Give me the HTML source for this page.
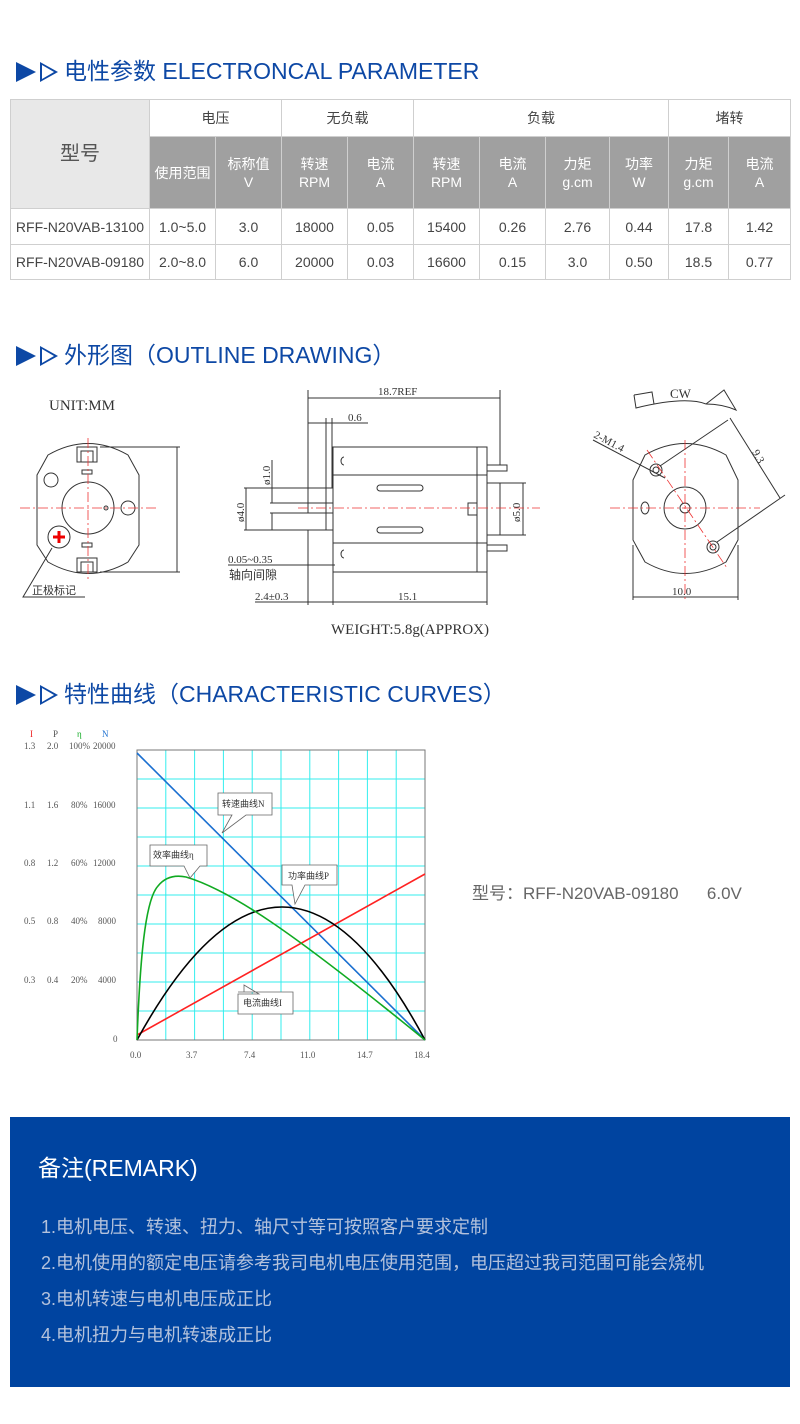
<!DOCTYPE html>
<html><head><meta charset="utf-8"><style>
body{margin:0;background:#fff;width:800px;height:1424px;position:relative;overflow:hidden;font-family:"Liberation Sans","Noto Sans CJK SC",sans-serif;}
.h{position:absolute;left:16px;color:#0d48a5;font-size:23px;line-height:30px;white-space:nowrap;}
.h .t1{display:inline-block;width:0;height:0;border-top:10px solid transparent;border-bottom:10px solid transparent;border-left:20px solid #0d48a5;vertical-align:-3px;margin-right:4px}
.h .t2{display:inline-block;width:0;height:0;border-top:10px solid transparent;border-bottom:10px solid transparent;border-left:18px solid #0d48a5;position:relative;vertical-align:-3px;margin-right:6px}
.h .t2:after{content:"";position:absolute;left:-16px;top:-7px;border-top:7px solid transparent;border-bottom:7px solid transparent;border-left:12px solid #fff}
table{position:absolute;left:10px;top:99px;border-collapse:collapse;font-size:14px;color:#444;table-layout:fixed}
td{border:1px solid #cfcfcf;text-align:center;padding:0;line-height:18px}
.g{background:#a0a0a0;color:#fff}
.svgt{font-family:"Liberation Serif","Noto Serif CJK SC",serif}
</style></head><body>
<div class="h" style="top:56px"><span class="t1"></span><span class="t2"></span>电性参数 ELECTRONCAL PARAMETER</div>
<table>
<colgroup><col style="width:139px"><col style="width:66px"><col style="width:66px"><col style="width:66px"><col style="width:66px"><col style="width:66px"><col style="width:66px"><col style="width:64px"><col style="width:59px"><col style="width:60px"><col style="width:62px"></colgroup>
<tr style="height:37px"><td rowspan="2" style="background:#e8e8e8;font-size:20px;color:#555">型号</td><td colspan="2">电压</td><td colspan="2">无负载</td><td colspan="4">负载</td><td colspan="2">堵转</td></tr>
<tr style="height:72px" class="g"><td class="g">使用范围</td><td class="g">标称值<br>V</td><td class="g">转速<br>RPM</td><td class="g">电流<br>A</td><td class="g">转速<br>RPM</td><td class="g">电流<br>A</td><td class="g">力矩<br>g.cm</td><td class="g">功率<br>W</td><td class="g">力矩<br>g.cm</td><td class="g">电流<br>A</td></tr>
<tr style="height:36px"><td>RFF-N20VAB-13100</td><td>1.0~5.0</td><td>3.0</td><td>18000</td><td>0.05</td><td>15400</td><td>0.26</td><td>2.76</td><td>0.44</td><td>17.8</td><td>1.42</td></tr>
<tr style="height:35px"><td>RFF-N20VAB-09180</td><td>2.0~8.0</td><td>6.0</td><td>20000</td><td>0.03</td><td>16600</td><td>0.15</td><td>3.0</td><td>0.50</td><td>18.5</td><td>0.77</td></tr>
</table>

<div class="h" style="top:340px"><span class="t1"></span><span class="t2"></span>外形图（OUTLINE DRAWING）</div>

<svg style="position:absolute;left:0;top:380px" width="800" height="270" viewBox="0 380 800 270" class="svgt">
<g fill="none" stroke="#333" stroke-width="1">
<path d="M48,455 Q88,432 128,455 L139,475 L139,545 L128,562 Q88,585 48,562 L37,545 L37,475 Z"/>
<rect x="77" y="447" width="20" height="15"/><rect x="81" y="451" width="12" height="11"/>
<rect x="77" y="558" width="20" height="14"/><rect x="81" y="562" width="12" height="10"/>
<rect x="82" y="470" width="10" height="4"/><rect x="82" y="543" width="10" height="4"/>
<circle cx="88" cy="508" r="26"/><circle cx="51" cy="480" r="7"/><circle cx="128" cy="508" r="7"/><circle cx="106" cy="508" r="2"/>
<circle cx="59" cy="537" r="11"/>
<path d="M100,447 H180 M100,572 H180 M177,447 V572"/>
<path d="M52,548 L23,597 H85"/>
<rect x="333" y="447" width="154" height="125"/>
<path d="M333,475 H487 M333,543 H487 M477,447 V572"/>
<rect x="487" y="483" width="13" height="52"/>
<rect x="487" y="465" width="20" height="6"/><rect x="487" y="545" width="20" height="6"/>
<rect x="308" y="503" width="25" height="10"/><rect x="326" y="488" width="7" height="42"/>
<rect x="377" y="485" width="46" height="6" rx="3"/><rect x="377" y="527" width="46" height="6" rx="3"/>
<path d="M468,503 H477 V515 H468 Z"/>
<path d="M344,457 a3,4 0 0 0 0,8 M344,550 a3,4 0 0 0 0,8"/>
<path d="M308,390 V503 M500,390 V465 M308,398 H500 M326,418 V488 M332,418 V488 M308,423 H368 M244,488 H326 M244,530 H326 M270,503 H308 M270,513 H308 M246,488 V530 M272,460 V503 M272,513 V530 M500,483 H526 M500,535 H526 M523,483 V535 M228,565 H335 M308,530 V605 M333,572 V605 M487,572 V605 M255,602 H487"/>
<path d="M645,455 Q685,432 726,455 L738,480 L738,540 L726,562 Q685,585 645,562 L633,540 L633,480 Z"/>
<circle cx="685" cy="508" r="21"/><circle cx="685" cy="508" r="5"/>
<ellipse cx="645" cy="508" rx="4" ry="6"/>
<circle cx="656" cy="470" r="6"/><circle cx="656" cy="470" r="3"/><circle cx="713" cy="547" r="6"/><circle cx="713" cy="547" r="3"/>
<path d="M660,466 L728,420 M717,542 L785,495 M730,418 L780,498 M593,440 L665,478 M633,545 V600 M738,545 V600 M633,597 H738"/>
<path d="M634,395 L636,408 Q685,396 706,404"/><path d="M634,395 L652,392 L654,404"/><path d="M706,404 L724,390 L736,410 Q722,404 706,404"/>
</g>
<g stroke="#e33" stroke-width="0.8" stroke-dasharray="10,3,2,3" fill="none">
<path d="M20,508 H156 M88,438 V582 M298,508 H540 M610,508 H760 M685,440 V600 M647,450 L727,568"/>
</g>
<path d="M53,537 H65 M59,531 V543" stroke="#e00" stroke-width="3"/>
<g font-size="11" fill="#333">
<text x="49" y="410" font-size="15">UNIT:MM</text>
<text x="32" y="594" font-family="Noto Sans CJK SC">正极标记</text>
<text x="378" y="395">18.7REF</text><text x="348" y="421">0.6</text>
<text transform="translate(270,485) rotate(-90)">ø1.0</text>
<text transform="translate(244,522) rotate(-90)">ø4.0</text>
<text transform="translate(520,522) rotate(-90)">ø5.0</text>
<text x="228" y="563">0.05~0.35</text>
<text x="229" y="579" font-family="Noto Sans CJK SC" font-size="12">轴向间隙</text>
<text x="255" y="600">2.4±0.3</text><text x="398" y="600">15.1</text>
<text x="672" y="595">10.0</text>
<text x="670" y="398" font-size="13">CW</text>
<text transform="translate(593,437) rotate(28)">2-M1.4</text>
<text transform="translate(752,452) rotate(62)">9.3</text>
<text x="331" y="634" font-size="15">WEIGHT:5.8g(APPROX)</text>
</g>
</svg>

<div class="h" style="top:679px"><span class="t1"></span><span class="t2"></span>特性曲线（CHARACTERISTIC CURVES）</div>

<svg style="position:absolute;left:0;top:725px" width="440" height="345" viewBox="0 725 440 345" class="svgt">
<g stroke="#3ee" stroke-width="1">
<path d="M165.8,750V1040M194.6,750V1040M223.4,750V1040M252.2,750V1040M281,750V1040M309.8,750V1040M338.6,750V1040M367.4,750V1040M396.2,750V1040"/>
<path d="M137,779H425M137,808H425M137,837H425M137,866H425M137,895H425M137,924H425M137,953H425M137,982H425M137,1011H425"/>
</g>
<rect x="137" y="750" width="288" height="290" fill="none" stroke="#777"/>
<path d="M137,753 L425,1040" stroke="#1a6fd0" stroke-width="1.6" fill="none"/>
<path d="M137,1035 L425,874" stroke="#f22" stroke-width="1.6" fill="none"/>
<path d="M137,1040 Q283,774 425,1040" stroke="#000" stroke-width="1.6" fill="none"/>
<path d="M137,1040 C140,960 145,900 158,886 C166,876 176,875 186,877 C230,890 290,930 425,1040" stroke="#1a2" stroke-width="1.6" fill="none"/>
<g fill="#fff" stroke="#666" stroke-width="0.8">
<path d="M218,793 H272 V815 H246 L222,833 L232,815 H218 Z"/>
<path d="M150,845 H207 V866 H200 L190,878 L184,866 H150 Z"/>
<path d="M282,865 H337 V885 H305 L295,904 L292,885 H282 Z"/>
<path d="M238,992 H293 V1014 H238 V994 H259 L244,985 L244,992 Z"/>
</g>
<g font-size="9" fill="#333" font-family="Liberation Serif,Noto Sans CJK SC,serif">
<text x="222" y="807">转速曲线N</text><text x="153" y="858">效率曲线η</text><text x="288" y="879">功率曲线P</text><text x="243" y="1006">电流曲线I</text>
</g>
<g font-size="9" fill="#555">
<text x="30" y="737" fill="#e22">I</text><text x="53" y="737">P</text><text x="77" y="737" fill="#1a2">η</text><text x="102" y="737" fill="#1a6fd0">N</text>
<text x="24" y="749">1.3</text><text x="47" y="749">2.0</text><text x="69" y="749">100%</text><text x="93" y="749">20000</text>
<text x="24" y="808">1.1</text><text x="47" y="808">1.6</text><text x="71" y="808">80%</text><text x="93" y="808">16000</text>
<text x="24" y="866">0.8</text><text x="47" y="866">1.2</text><text x="71" y="866">60%</text><text x="93" y="866">12000</text>
<text x="24" y="924">0.5</text><text x="47" y="924">0.8</text><text x="71" y="924">40%</text><text x="98" y="924">8000</text>
<text x="24" y="983">0.3</text><text x="47" y="983">0.4</text><text x="71" y="983">20%</text><text x="98" y="983">4000</text>
<text x="113" y="1042">0</text>
<text x="130" y="1058">0.0</text><text x="186" y="1058">3.7</text><text x="244" y="1058">7.4</text><text x="300" y="1058">11.0</text><text x="357" y="1058">14.7</text><text x="414" y="1058">18.4</text>
</g>
</svg>
<div style="position:absolute;left:472px;top:879px;font-size:17px;color:#666;white-space:pre">型号：RFF-N20VAB-09180      6.0V</div>

<div style="position:absolute;left:10px;top:1117px;width:780px;height:270px;background:#0044a0;">
<div style="position:absolute;left:28px;top:32px;font-size:23px;color:#fff">备注(REMARK)</div>
<div style="position:absolute;left:31px;top:92px;font-size:18px;color:#b4c2dc;line-height:36px">1.电机电压、转速、扭力、轴尺寸等可按照客户要求定制<br>2.电机使用的额定电压请参考我司电机电压使用范围，电压超过我司范围可能会烧机<br>3.电机转速与电机电压成正比<br>4.电机扭力与电机转速成正比</div>
</div>
</body></html>
